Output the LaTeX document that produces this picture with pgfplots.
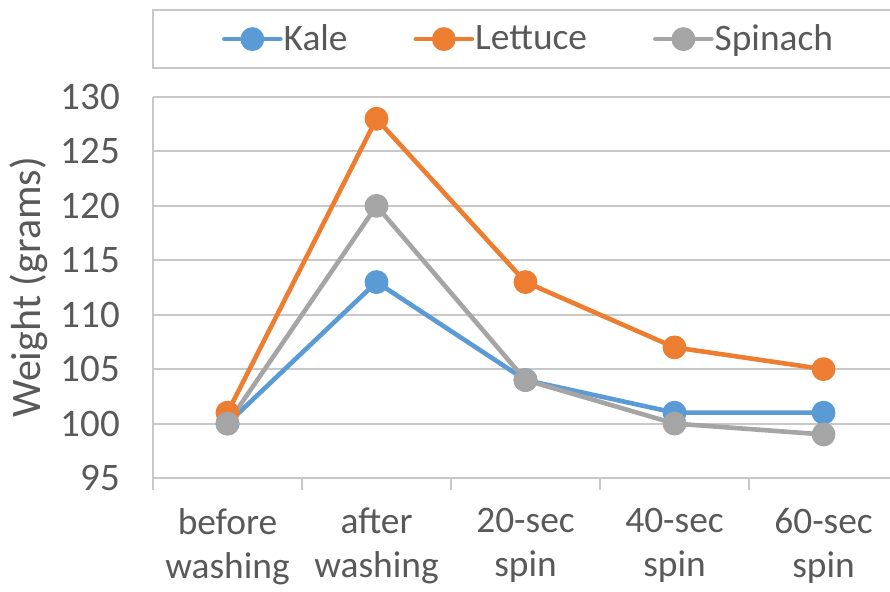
\documentclass[border=0pt]{standalone}
\usepackage{pgfplots}
\pgfplotsset{compat=1.18}
\usepackage{fontspec}
\setmainfont{Carlito}
\definecolor{kale}{HTML}{5B9BD5}
\definecolor{lettuce}{HTML}{ED7D31}
\definecolor{spinach}{HTML}{A5A5A5}
\definecolor{gridc}{HTML}{C8C8C8}
\definecolor{txt}{HTML}{595959}
\begin{document}
\begin{tikzpicture}
\begin{axis}[
  scale only axis, width=368.5pt, height=190.5pt,
  xmin=-0.5, xmax=4.446, ymin=95, ymax=130,
  ytick={95,100,...,130},
  ymajorgrids, major grid style={gridc, line width=1pt},
  axis x line*=bottom, axis y line*=left,
  axis line style={gridc, line width=1pt},
  tick style={gridc, line width=1pt},
  major tick length=0pt,
  xtick={0,...,4},
  xticklabels={{before\\washing},{after\\washing},{20-sec\\spin},{40-sec\\spin},{60-sec\\spin}},
  xticklabel style={align=center, text=txt, font=\fontsize{18.7}{22}\selectfont, yshift=-11.5pt},
  yticklabel style={text=txt, font=\fontsize{19.5}{21}\selectfont, xshift=-13pt},
  /pgf/number format/assume math mode=true,
  extra x ticks={-0.5,0.5,1.5,2.5,3.5},
  extra x tick labels={},
  extra x tick style={major tick length=6pt, tick align=outside},
  ylabel={Weight (grams)},
  ylabel style={at={(axis description cs:-0.1683,0.5)}, anchor=center, text=txt, font=\fontsize{21}{24}\selectfont},
  legend columns=3,
  legend cell align=left,
  legend image code/.code={\draw[#1, mark repeat=2, mark phase=2] plot coordinates {(0pt,0pt) (14pt,0pt) (28pt,0pt)};},
  legend style={draw=none, fill=none, at={(axis description cs:0.511,1.152)}, anchor=center,
    font=\fontsize{18.7}{20}\selectfont, text=txt,
    /tikz/every odd column/.append style={column sep=-1.5pt},
    /tikz/every even column/.append style={column sep=31pt}},
  every axis plot/.append style={line width=2.3pt, line cap=round, line join=round, mark=*, mark size=4.8pt, mark options={solid, line width=0.5pt}},
]
\addplot[kale, mark options={fill=kale, draw=kale}] coordinates {(0,100) (1,113) (2,104) (3,101) (4,101)};
\addlegendentry{Kale}
\addplot[lettuce, mark options={fill=lettuce, draw=lettuce}] coordinates {(0,101) (1,128) (2,113) (3,107) (4,105)};
\addlegendentry{Lettuce}
\addplot[spinach, mark options={fill=spinach, draw=spinach}] coordinates {(0,100) (1,120) (2,104) (3,100) (4,99)};
\addlegendentry{Spinach}
\end{axis}
\draw[gridc, line width=1pt] (0,205pt) rectangle (380pt,234pt);
\pgfresetboundingbox
\path[use as bounding box] (-76.5pt,-56.5pt) rectangle (368.5pt,239pt);
\end{tikzpicture}
\end{document}
